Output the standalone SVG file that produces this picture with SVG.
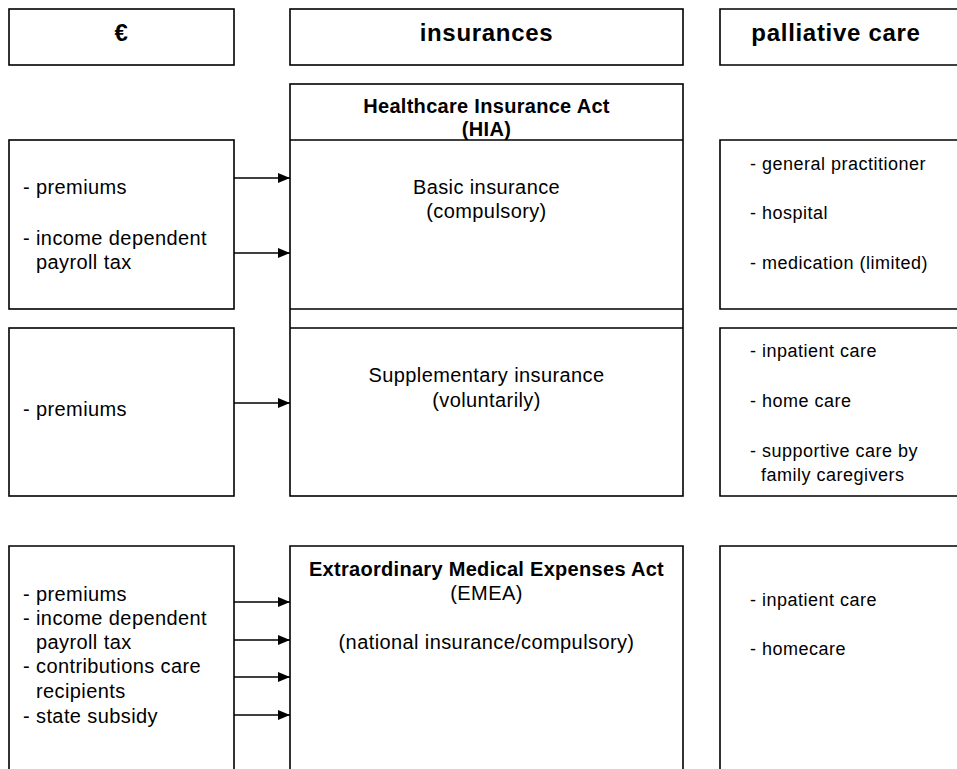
<svg xmlns="http://www.w3.org/2000/svg" width="957" height="769" viewBox="0 0 957 769">
<style>
.box{fill:#fff;stroke:#000;stroke-width:1.6}
.ln{fill:none;stroke:#000;stroke-width:1.6}
.t{font-family:"Liberation Sans",Arial,sans-serif;font-size:20px;letter-spacing:0.4px;fill:#000}
.r{font-family:"Liberation Sans",Arial,sans-serif;font-size:18px;letter-spacing:0.5px;fill:#000}
.b{font-family:"Liberation Sans",Arial,sans-serif;font-size:20px;font-weight:bold;letter-spacing:0.3px;fill:#000}
.h{font-family:"Liberation Sans",Arial,sans-serif;font-size:24px;font-weight:bold;letter-spacing:0.7px;fill:#000}
.c{text-anchor:middle}
.con{stroke:#000;stroke-width:1.6;fill:none;marker-end:url(#ah)}
</style>
<defs>
<marker id="ah" markerUnits="userSpaceOnUse" markerWidth="12" markerHeight="10" refX="12" refY="5" orient="auto">
<path d="M0,0 L12,5 L0,10 z" fill="#000"/>
</marker>
</defs>
<rect width="957" height="769" fill="#fff"/>
<g id="header-euro"><rect class="box" x="9" y="9" width="225" height="56"/><text class="h c" x="121.5" y="41">€</text></g>
<g id="header-insurances"><rect class="box" x="290" y="9" width="393" height="56"/><text class="h c" x="486.5" y="41">insurances</text></g>
<g id="header-palliative"><path class="ln" d="M960,9 H720 V65 H960"/><text class="h c" x="836" y="41">palliative care</text></g>

<g id="hia">
<rect class="box" x="290" y="84" width="393" height="412"/>
<path class="ln" d="M290,140 H683 M290,309 H683 M290,328 H683"/>
<text class="b c" x="486.5" y="113">Healthcare Insurance Act</text>
<text class="b c" x="486.5" y="136">(HIA)</text>
<text class="t c" x="486.5" y="194">Basic insurance</text>
<text class="t c" x="486.5" y="218">(compulsory)</text>
<text class="t c" x="486.5" y="382">Supplementary insurance</text>
<text class="t c" x="486.5" y="407">(voluntarily)</text>
</g>

<g id="fund-basic"><rect class="box" x="9" y="140" width="225" height="169"/>
<text class="t" x="23" y="194">- premiums</text>
<text class="t" x="23" y="245">- income dependent</text>
<text class="t" x="36" y="269">payroll tax</text></g>

<g id="fund-supp"><rect class="box" x="9" y="328" width="225" height="168"/>
<text class="t" x="23" y="416">- premiums</text></g>

<g id="care-basic"><path class="ln" d="M960,140 H720 V309 H960"/>
<text class="r" x="750" y="170">- general practitioner</text>
<text class="r" x="750" y="219">- hospital</text>
<text class="r" x="750" y="269">- medication (limited)</text></g>

<g id="care-supp"><path class="ln" d="M960,328 H720 V496 H960"/>
<text class="r" x="750" y="357">- inpatient care</text>
<text class="r" x="750" y="407">- home care</text>
<text class="r" x="750" y="457">- supportive care by</text>
<text class="r" x="761" y="481">family caregivers</text></g>

<g id="fund-emea"><path class="ln" d="M9,772 V546 H234 V772"/>
<text class="t" x="23" y="601">- premiums</text>
<text class="t" x="23" y="625">- income dependent</text>
<text class="t" x="36" y="649">payroll tax</text>
<text class="t" x="23" y="673">- contributions care</text>
<text class="t" x="36" y="698">recipients</text>
<text class="t" x="23" y="723">- state subsidy</text></g>

<g id="emea"><path class="ln" d="M290,772 V546 H683 V772"/>
<text class="b c" x="486.5" y="576">Extraordinary Medical Expenses Act</text>
<text class="t c" x="486.5" y="600">(EMEA)</text>
<text class="t c" x="486.5" y="649">(national insurance/compulsory)</text></g>

<g id="care-emea"><path class="ln" d="M960,546 H720 V772"/>
<text class="r" x="750" y="606">- inpatient care</text>
<text class="r" x="750" y="655">- homecare</text></g>

<g id="connectors">
<line class="con" x1="234" y1="178" x2="290" y2="178"/>
<line class="con" x1="234" y1="253" x2="290" y2="253"/>
<line class="con" x1="234" y1="403" x2="290" y2="403"/>
<line class="con" x1="234" y1="602" x2="290" y2="602"/>
<line class="con" x1="234" y1="640" x2="290" y2="640"/>
<line class="con" x1="234" y1="677" x2="290" y2="677"/>
<line class="con" x1="234" y1="715" x2="290" y2="715"/>
</g>
</svg>
